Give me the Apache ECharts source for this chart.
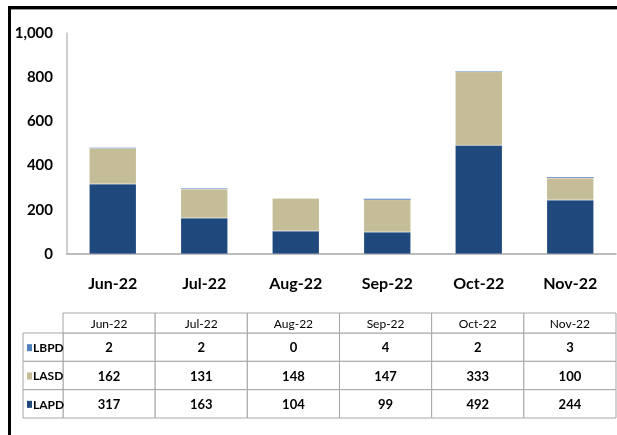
<!DOCTYPE html>
<html>
<head>
<meta charset="utf-8">
<style>
  html, body { margin: 0; padding: 0; background: #fff; }
  #main { width: 617px; height: 435px; }
</style>
<script src="https://cdn.jsdelivr.net/npm/echarts@6/dist/echarts.min.js"></script>
</head>
<body>
<div id="main"></div>
<script>
// months shown on the x axis and as table header
var months = ['Jun-22', 'Jul-22', 'Aug-22', 'Sep-22', 'Oct-22', 'Nov-22'];
var lapd = [317, 163, 104, 99, 492, 244];
var lasd = [162, 131, 148, 147, 333, 100];
var lbpd = [2, 2, 0, 4, 2, 3];
// table rows, top to bottom
var rowNames = ['LBPD', 'LASD', 'LAPD'];
var rowValues = [lbpd, lasd, lapd];
var colors = { LAPD: '#1F497D', LASD: '#C4BD97', LBPD: '#4F81BD' };

var fnt = "Lato, 'Liberation Sans Narrow', sans-serif";

var cells = [];
for (var r = 0; r < rowNames.length; r++) {
  for (var c = 0; c < months.length; c++) {
    cells.push([c, r, rowValues[r][c]]);
  }
}

function renderCell(params, api) {
  var c = api.value(0), r = api.value(1);
  var pt = api.coord([c, r]);
  var sz = api.size([1, 1]);
  var x0 = pt[0] - sz[0] / 2, y0 = pt[1] - sz[1] / 2;
  var line = '#A6A6A6';
  var kids = [
    { type: 'rect', shape: { x: x0, y: y0, width: sz[0], height: sz[1] },
      style: { fill: '#fff', stroke: line, lineWidth: 1 } },
    { type: 'text', style: { text: String(api.value(2)), x: pt[0], y: pt[1] + 1,
      align: 'center', verticalAlign: 'middle', font: 'bold 13px ' + fnt, fill: '#000' } }
  ];
  if (r === 0) {
    kids.push({ type: 'rect', shape: { x: x0, y: y0 - 20, width: sz[0], height: 20 },
      style: { fill: '#fff', stroke: line, lineWidth: 1 } });
    kids.push({ type: 'text', style: { text: months[c], x: pt[0], y: y0 - 9,
      align: 'center', verticalAlign: 'middle', font: '12px ' + fnt, fill: '#000' } });
  }
  if (c === 0) {
    var name = rowNames[r];
    kids.push({ type: 'rect', shape: { x: x0 - 40, y: y0, width: 40, height: sz[1] },
      style: { fill: '#fff', stroke: line, lineWidth: 1 } });
    kids.push({ type: 'rect', shape: { x: x0 - 36, y: pt[1] - 3, width: 5, height: 7 },
      style: { fill: colors[name] } });
    kids.push({ type: 'text', style: { text: name, x: x0 - 30, y: pt[1] + 1,
      align: 'left', verticalAlign: 'middle', font: 'bold 12px ' + fnt, fill: '#000' } });
  }
  return { type: 'group', children: kids };
}

var myChart = echarts.init(document.getElementById('main'));
var option = {
  animation: false,
  grid: [
    { left: 67, right: 1, top: 33, bottom: 181 },
    { left: 63, right: 1, top: 333, bottom: 17 }
  ],
  graphic: [
    { type: 'rect', shape: { x: 8, y: 6, width: 609, height: 3 }, style: { fill: '#000' } },
    { type: 'rect', shape: { x: 8, y: 9, width: 609, height: 1 }, style: { fill: '#9a9a9a' } },
    { type: 'rect', shape: { x: 8, y: 6, width: 3, height: 429 }, style: { fill: '#000' } }
  ],
  xAxis: [
    {
      type: 'category',
      gridIndex: 0,
      data: months,
      axisLine: { lineStyle: { color: '#A6A6A6', width: 1.5 } },
      axisTick: { show: false },
      axisLabel: { color: '#000', fontWeight: 'bold', fontSize: 16, fontFamily: fnt, margin: 22 }
    },
    {
      type: 'category',
      gridIndex: 1,
      data: months,
      show: false
    }
  ],
  yAxis: [
    {
      type: 'value',
      gridIndex: 0,
      min: 0,
      max: 1000,
      interval: 200,
      axisLine: { show: true, lineStyle: { color: '#BFBFBF', width: 1.5 } },
      axisTick: { show: false },
      splitLine: { show: false },
      axisLabel: {
        color: '#000', fontWeight: 'bold', fontSize: 15, fontFamily: fnt, margin: 14,
        formatter: function (v) { return v.toLocaleString('en-US'); }
      }
    },
    {
      type: 'category',
      gridIndex: 1,
      data: rowNames,
      inverse: true,
      show: false
    }
  ],
  series: [
    {
      name: 'LAPD', type: 'bar', stack: 'total', data: lapd, barWidth: 47,
      itemStyle: { color: colors.LAPD, borderColor: 'rgba(255,255,255,0.35)', borderWidth: 0.5 }
    },
    {
      name: 'LASD', type: 'bar', stack: 'total', data: lasd, barWidth: 47,
      itemStyle: { color: colors.LASD, borderColor: 'rgba(255,255,255,0.35)', borderWidth: 0.5 }
    },
    {
      name: 'LBPD', type: 'bar', stack: 'total', data: lbpd, barWidth: 47,
      itemStyle: { color: colors.LBPD }
    },
    {
      type: 'custom',
      xAxisIndex: 1,
      yAxisIndex: 1,
      data: cells,
      renderItem: renderCell,
      silent: true
    }
  ]
};
myChart.setOption(option);
</script>
</body>
</html>
